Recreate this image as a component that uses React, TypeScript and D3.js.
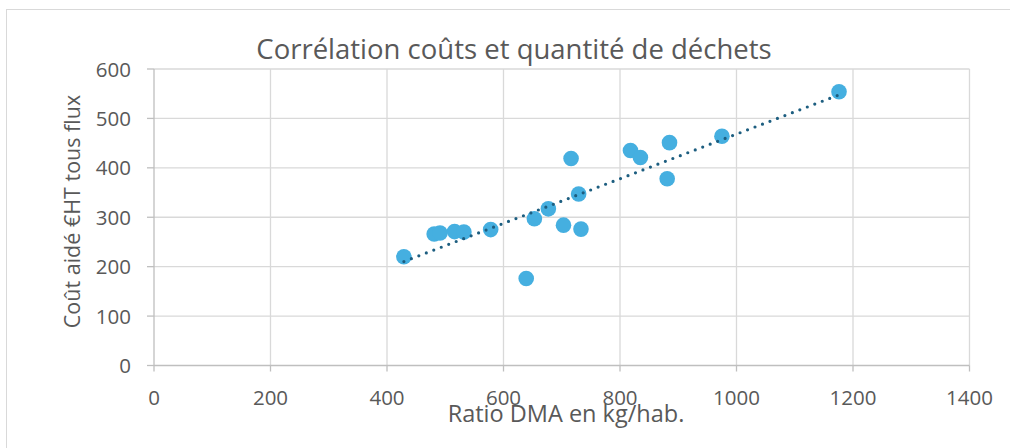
import React from 'react';
import * as d3 from 'd3';

const title = 'Corrélation coûts et quantité de déchets';
const xTitle = 'Ratio DMA en kg/hab.';
const yTitle = 'Coût aidé €HT tous flux';

const ratioDMA = [429, 481, 491, 516, 532, 578, 639, 653, 677, 703, 716, 729, 733, 818, 835, 881, 885, 975, 1176];
const coutAide = [220, 266, 268, 271, 270, 275, 176, 297, 317, 284, 419, 347, 276, 435, 421, 378, 451, 464, 554];

const xTicks = [0, 200, 400, 600, 800, 1000, 1200, 1400];
const yTicks = [0, 100, 200, 300, 400, 500, 600];

const W = 1010;
const H = 448;
const FONT = "'Open Sans', 'DejaVu Sans', sans-serif";

export default function App() {
  const x = d3.scaleLinear().domain([0, 1400]).range([154, 969.5]);
  const y = d3.scaleLinear().domain([0, 600]).range([365.5, 69]);

  const n = ratioDMA.length;
  const mx = d3.mean(ratioDMA) as number;
  const my = d3.mean(coutAide) as number;
  let sxy = 0;
  let sxx = 0;
  for (let i = 0; i < n; i++) {
    sxy += (ratioDMA[i] - mx) * (coutAide[i] - my);
    sxx += (ratioDMA[i] - mx) ** 2;
  }
  const slope = sxy / sxx;
  const icpt = my - slope * mx;
  const [x0, x1] = d3.extent(ratioDMA) as [number, number];
  const trend = d3.line<number>().x((d) => x(d)).y((d) => y(icpt + slope * d))([x0, x1]) as string;

  const [xl, xr] = x.range();
  const [yb, yt] = y.range();

  return (
    <svg width={W} height={H} style={{ position: 'absolute', left: 0, top: 0 }} fontFamily={FONT}>
      <rect x={0} y={0} width={W} height={H} fill="#fff" />
      <rect x={6.5} y={9.5} width={1020} height={460} fill="#fff" stroke="#D9D9D9" strokeWidth={1} />

      <text x={514} y={59} textAnchor="middle" fontSize={27.5} fill="#595959">{title}</text>

      {/* gridlines */}
      {xTicks.filter((t) => t !== 0).map((t) => (
        <line key={'gx' + t} x1={x(t)} x2={x(t)} y1={yt} y2={yb} stroke="#D9D9D9" strokeWidth={1.3} />
      ))}
      {yTicks.filter((t) => t !== 0).map((t) => (
        <line key={'gy' + t} x1={xl} x2={xr} y1={y(t)} y2={y(t)} stroke="#D9D9D9" strokeWidth={1.3} />
      ))}

      {/* axes */}
      <line x1={xl} x2={xl} y1={yt} y2={yb} stroke="#BFBFBF" strokeWidth={1.3} />
      <line x1={xl} x2={xr} y1={yb} y2={yb} stroke="#BFBFBF" strokeWidth={1.3} />
      {yTicks.map((t) => (
        <g key={'ty' + t}>
          <line x1={xl - 7} x2={xl} y1={y(t)} y2={y(t)} stroke="#BFBFBF" strokeWidth={1.3} />
          <text x={131} y={y(t) + 7.5} textAnchor="end" fontSize={20.5} fill="#595959">{t}</text>
        </g>
      ))}
      {xTicks.map((t) => (
        <g key={'tx' + t}>
          <line x1={x(t)} x2={x(t)} y1={yb} y2={yb + 6} stroke="#BFBFBF" strokeWidth={1.3} />
          <text x={x(t)} y={404.5} textAnchor="middle" fontSize={20.5} fill="#595959">{t}</text>
        </g>
      ))}

      {/* points */}
      {ratioDMA.map((d, i) => (
        <circle key={'p' + i} cx={x(d)} cy={y(coutAide[i])} r={7.8} fill="#45AFE0" />
      ))}

      {/* trendline */}
      <path d={trend} fill="none" stroke="#1D5E80" strokeWidth={3.2} strokeLinecap="round" strokeDasharray="0 8" />

      <text x={566} y={422} textAnchor="middle" fontSize={23.5} fill="#595959">{xTitle}</text>
      <text transform={`translate(80,${211.5}) rotate(-90)`} textAnchor="middle" fontSize={21.5} fill="#595959">{yTitle}</text>
    </svg>
  );
}
